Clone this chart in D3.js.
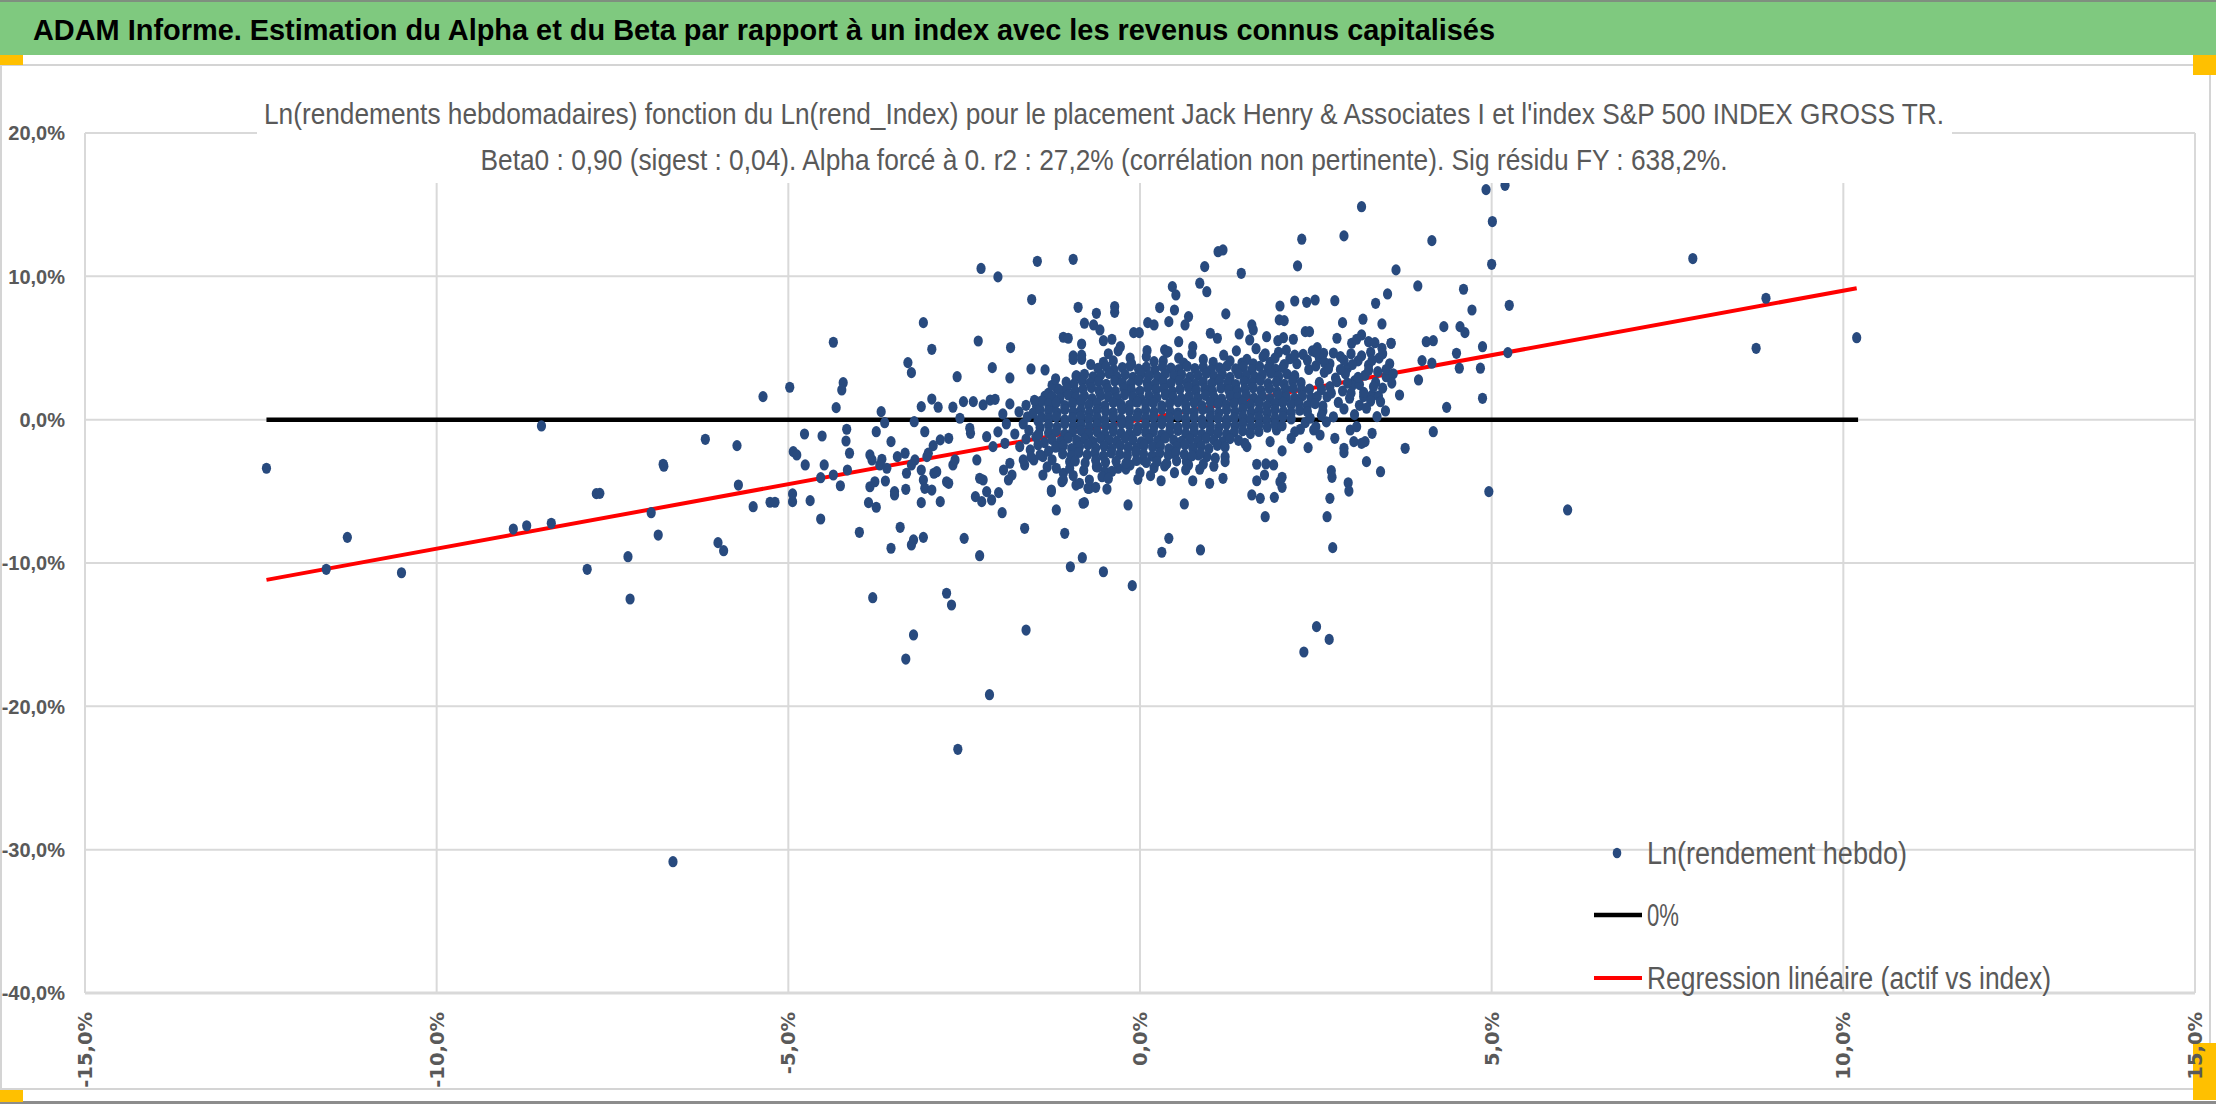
<!DOCTYPE html>
<html><head><meta charset="utf-8">
<script src="https://cdn.jsdelivr.net/npm/d3@7"></script>
<style>body{margin:0;background:#fff}svg{display:block}</style>
</head><body><svg id="c" width="2216" height="1104"></svg>
<script>
// ---------- texts ----------
const titleText = "ADAM Informe. Estimation du Alpha et du Beta par rapport à un index avec les revenus connus capitalisés";
const subtitleLines = [
  "Ln(rendements hebdomadaires) fonction du Ln(rend_Index) pour le placement Jack Henry & Associates I et l'index S&P 500 INDEX GROSS TR.",
  "Beta0 : 0,90 (sigest : 0,04). Alpha forcé à 0. r2 : 27,2% (corrélation non pertinente). Sig résidu FY : 638,2%."
];
const legendLabels = ["Ln(rendement hebdo)", "0%", "Regression linéaire (actif vs index)"];
const xTicks = [-15, -10, -5, 0, 5, 10, 15];
const yTicks = [20, 10, 0, -10, -20, -30, -40];
const beta = 0.90;   // Beta0, alpha forced to 0

// ---------- data (x = Ln(rend_Index) %, y = Ln(rendement hebdo) %) ----------
// scattered points, left / lower part
const scatterLeft = [
[-12.42,-3.39],[-11.57,-10.44],[-11.27,-8.21],[-10.50,-10.68],[-8.91,-7.63],[-8.72,-7.40],[-8.37,-7.23],[-8.51,-0.44],
[-7.73,-5.16],[-7.86,-10.44],[-6.64,-30.84],[-6.77,-3.25],[-7.28,-9.56],[-7.25,-12.51],[-7.68,-5.14],[-6.95,-6.49],
[-6.85,-8.05],[-6.78,-3.11],[-6.18,-1.37],[-6.00,-8.58],[-5.92,-9.14],[-5.73,-1.81],[-5.71,-4.56],[-5.50,-6.07],
[-5.26,-5.76],[-5.19,-5.76],[-5.36,1.61],[-4.98,2.26],[-4.94,-5.72],[-4.94,-5.18],[-4.69,-5.65],[-4.54,-6.93],
[-4.36,5.40],[-4.22,2.58],[-4.24,2.07],[-4.32,0.84],[-3.68,0.56],[-3.30,3.98],[-3.25,3.28],[-3.08,6.77],
[-2.96,4.91],[-2.30,5.49],[-1.84,5.03],[-2.60,3.00],[-2.10,3.63],[-1.85,2.91],[-1.55,3.54],[-1.35,3.47],
[-3.11,0.91],[-2.96,1.44],[-2.87,0.87],[-2.66,0.87],[-2.51,1.26],[-2.56,0.10],[-2.37,1.26],[-2.23,1.03],
[-2.13,1.37],[-2.06,1.42],[-1.85,1.10],[-0.95,4.45],[-0.83,4.21],[-0.91,3.05],[-1.35,1.65],[-1.18,2.19],
[-1.11,1.95],[-1.47,0.91],[-1.23,0.91],[-3.21,-0.14],[-3.63,-0.21],[-3.75,-0.84],[-4.17,-0.67],[-4.18,-1.49],
[-4.13,-2.34],[-4.16,-3.51],[-3.54,-1.53],[-3.06,-0.84],[-4.77,-1.00],[-4.52,-1.14],[-4.93,-2.23],[-4.88,-2.46],
[-4.76,-3.16],[-4.49,-3.16],[-4.36,-3.86],[-4.54,-4.05],[-4.26,-4.61],[-3.84,-2.46],[-3.81,-2.81],[-3.67,-2.76],
[-3.70,-3.16],[-3.60,-3.39],[-3.84,-4.68],[-3.77,-4.33],[-3.86,-5.79],[-3.75,-6.11],[-3.62,-4.28],[-3.45,-2.58],
[-3.34,-2.34],[-3.32,-3.74],[-3.33,-4.86],[-3.49,-5.02],[-3.49,-5.25],[-3.20,-2.81],[-3.25,-3.16],[-3.11,-3.51],
[-3.08,-4.21],[-3.06,-4.79],[-3.11,-5.79],[-2.96,-4.91],[-2.93,-3.74],[-2.89,-3.63],[-2.84,-5.72],[-2.75,-4.33],
[-2.72,-4.44],[-2.66,-3.16],[-2.63,-2.81],[-2.72,-1.30],[-2.84,-1.41],[-2.94,-1.81],[-3.01,-2.34],[-3.03,-2.58],
[-2.41,-0.95],[-2.42,-0.60],[-2.32,-2.81],[-2.34,-5.37],[-2.25,-5.72],[-2.18,-5.02],[-2.11,-5.60],[-2.01,-5.09],
[-2.23,-4.21],[-2.28,-4.09],[-2.18,-1.19],[-2.09,-1.88],[-1.92,-1.65],[-1.85,-3.04],[-1.87,-4.21],[-1.94,-3.51],
[-1.82,-3.86],[-1.96,-6.49],[-1.64,-3.16],[-1.66,-2.81],[-1.71,-1.88],[-1.56,-2.11],[-1.51,-2.81],[-1.38,-3.86],
[-1.26,-5.02],[-1.19,-6.30],[-1.38,-2.58],[-1.11,-4.33],[-1.09,-3.74],[-1.07,-7.93],[-0.91,-4.56],[-0.81,-5.83],
[-0.82,-9.63],[-0.99,-10.26],[-0.74,-4.79],[-0.62,-3.28],[-1.64,-7.58],[-1.62,-14.68],[-2.28,-9.49],[-2.50,-8.28],
[-2.75,-12.11],[-2.68,-12.93],[-3.22,-15.02],[-3.08,-8.21],[-3.22,-8.39],[-3.25,-8.74],[-3.54,-8.97],[-3.41,-7.51],
[-3.99,-7.86],[-3.80,-12.42],[-3.33,-16.70],[-2.14,-19.19],[-2.59,-23.00],
[-2.26,10.55],[-2.02,9.96],[-1.46,11.05],[-1.54,8.38]
];
// scattered points, right / upper part
const scatterRight = [
[10.19,5.72],[8.90,8.47],[8.76,4.98],[7.86,11.24],[6.08,-6.30],
[4.92,16.05],[5.19,16.35],[5.01,13.82],[5.00,10.84],[5.25,7.98],[5.23,4.68],[4.96,-5.02],[4.87,5.09],[4.84,3.59],
[4.87,1.49],[4.54,3.59],[4.50,4.63],[4.60,9.10],[4.72,7.65],[4.55,6.49],[4.62,6.07],[4.32,6.49],[4.15,12.49],
[4.36,0.86],[4.17,-0.84],[3.77,-2.00],[3.95,9.33],[3.64,10.45],[4.07,5.44],[4.17,5.51],[4.01,4.12],[4.15,3.94],
[3.96,2.77],[3.69,1.72],[3.52,8.77],[3.35,8.12],[3.57,5.33],[3.44,6.68],[3.15,14.86],[2.90,12.82],[2.30,12.59],
[2.24,10.73],[3.42,-3.63],[3.22,-2.93],[2.77,-1.30],[2.90,-2.00],[2.90,-2.30],[2.39,-1.95],[-0.95,11.19],
[1.44,10.21],[0.92,10.68],[1.11,11.72],[1.18,11.84],[0.85,9.52],[0.95,8.93],[0.46,9.28],[0.51,8.70],[0.28,7.82],
[-0.88,7.84],[-0.36,7.89],[-0.36,7.49],[-0.62,7.42],[0.49,7.65],[0.69,7.19],[1.22,7.38],[2.20,8.28],[2.37,8.19],
[2.49,8.35],[2.77,8.30],[1.99,7.93],[1.98,6.96],[2.05,6.91],[2.88,6.77],[3.17,7.01],[1.59,6.61],[1.61,6.26],
[1.41,5.98],[1.56,5.56],[0.11,6.77],[0.20,6.61],[0.41,6.84],[0.64,6.61],[-0.09,6.07],[-0.01,6.07],[-0.79,6.73],
[-0.66,6.61],[-0.57,6.26],[-1.09,5.75],[-1.02,5.68],[-0.83,5.28],[-0.52,5.51],[-0.40,5.61],[-0.28,5.09],
[0.10,4.82],[0.35,4.87],[0.40,4.75],[0.55,5.44],[0.75,5.09],[1.00,6.03],[1.10,5.68],[1.80,5.79],[1.96,5.51],
[2.04,5.72],[2.18,5.61],[2.35,6.14],[2.41,6.14],[2.52,5.02],[2.61,4.63],[2.80,5.68],[3.01,5.33],[3.08,5.61],
[3.15,5.91],[3.25,5.44],[3.34,5.37],[3.44,4.98],[3.57,5.33],
[-0.52,-10.61],[-0.11,-11.58],[-0.79,-5.79],[-0.17,-5.95],[-0.72,-4.79],[-0.63,-4.72],[-0.47,-4.84],[-0.03,-4.16],
[0.30,-4.26],[0.49,-3.70],[0.35,-3.23],[0.63,-5.88],[0.75,-4.26],[0.99,-4.44],[1.18,-4.09],[0.85,-3.46],
[0.41,-8.28],[0.31,-9.25],[0.86,-9.09],[1.59,-5.25],[1.71,-5.49],[1.66,-4.26],[1.77,-3.86],[1.91,-5.42],
[1.99,-4.33],[2.02,-4.72],[2.02,-4.02],[1.78,-6.77],[1.66,-3.11],[1.79,-3.09],[1.90,-3.16],[2.02,-2.18],
[2.66,-6.77],[2.70,-5.49],[2.73,-4.02],[2.72,-3.56],[2.74,-8.93],[2.51,-14.44],[2.69,-15.33],[2.33,-16.21],
[2.96,-4.40],[2.97,-4.98],[2.99,-0.72],[3.08,-0.49],[3.04,-1.53],[3.15,-1.65],[3.20,-1.53],[3.30,-0.95],
[3.18,1.61],[3.30,1.72],[3.39,1.65],[3.37,0.21],[3.49,0.61],[2.47,-0.72],[2.56,-1.07],[2.28,-0.67],
[1.94,-0.72],[1.85,-1.53],[1.52,-1.88],[1.49,-1.65],[1.21,-2.58],[1.21,-2.93],[1.07,-2.69],[0.95,-2.58],
[0.83,-2.46],[0.66,-2.93],[0.69,-3.16],[0.47,-2.34],[0.24,-2.62],[0.05,-2.81],[-0.14,-3.16],[-0.31,-3.39],
[-0.21,-3.32],[-0.50,-3.63],[-0.54,-3.98],[-0.72,-4.21],[-0.86,-4.44],[-1.09,-4.21],[-1.26,-4.91],[-1.19,-3.39],
[-1.00,-2.93],[-1.14,-1.88]
];
// medium-density ring around the central cloud
const ringPts = [
[-0.95,4.2],[-0.83,4.5],[-0.52,4.0],[-0.45,4.6],[-0.38,4.1],[-0.31,4.8],[-0.14,4.3],[-0.12,3.9],[0.09,4.4],[0.33,4.1],
[0.38,4.7],[0.55,4.3],[0.62,3.95],[0.74,4.6],[0.90,4.2],[1.04,4.0],[1.19,4.5],[1.28,4.1],[1.37,4.8],[1.52,4.2],
[1.61,3.9],[1.75,4.4],[1.85,4.0],[1.97,4.7],[2.13,4.25],[2.23,3.9],[2.32,4.55],[-0.7,3.85],[0.2,4.05],[1.45,3.95],[2.05,3.85],
[2.55,4.3],[2.7,3.9],[2.85,4.4],[2.95,3.6],[3.1,4.1],[3.25,3.8],[3.4,4.3],[3.55,3.9],[2.4,3.5],[2.62,3.3],
[2.78,2.9],[2.92,3.2],[3.05,2.7],[3.2,3.1],[3.35,2.6],[3.5,3.0],[2.55,2.6],[2.7,2.3],[2.88,2.0],[3.02,2.4],
[3.18,1.9],[3.32,2.3],[2.66,1.6],[2.82,1.2],[2.98,1.5],[3.12,1.0],[3.28,1.3],[2.6,0.6],[2.75,0.2],[2.9,0.75],
[3.05,0.35],[3.22,0.8],[2.35,-0.2],[2.5,-0.5],[2.65,-0.15],[2.2,-0.85],[3.0,4.6],[3.28,4.7],[2.45,4.8],[2.15,-1.3],
[1.65,4.95],[1.78,4.6],[1.92,4.3],[2.08,4.85],[2.2,4.5],[2.38,4.15],[2.5,4.7],[2.62,4.0],[2.75,4.65],[2.9,4.15],
[3.02,3.85],[3.15,4.45],[3.3,4.15],[3.45,4.6],[3.5,3.5],[3.38,3.35],[3.6,3.2],[3.25,3.45],[2.85,3.5],[2.5,3.75],
[2.68,3.55],[3.12,2.45],[3.45,2.2],[3.58,2.55],[3.1,2.95],[2.95,2.55],[2.8,2.65],[2.58,2.1],[2.48,1.25],[2.6,0.95],
[2.72,1.85],[3.0,1.85],[3.42,1.25],[2.42,0.1],[2.58,0.3],
[-1.72,0.55],[-1.6,0.2],[-1.66,-0.3],[-1.52,0.45],[-1.45,-0.1],[-1.58,-0.75],[-1.42,0.7],[-1.4,0.15],[-1.48,-1.2],
[-1.42,-0.55],[-1.62,-1.35],[-1.44,-1.0],[-1.36,-1.6],[-1.45,-1.75],[-1.3,-2.2],[-1.42,-2.45],[-1.25,-2.8],[-1.32,-3.3],
[-1.78,-1.0],[-1.55,-2.6],[-1.4,1.3],[-1.5,1.35],[-1.3,1.85],[-1.25,2.4],[-1.2,2.85],[-1.62,1.0],[-1.9,-0.3],
[-1.95,0.4],[-2.02,-0.85],
[-1.0,-3.4],[-0.8,-3.55],[-0.6,-3.3],[-0.4,-3.6],[-0.2,-3.45],[0.0,-3.7],[0.2,-3.35],[0.65,-3.5],[0.9,-3.1],
[1.05,-3.25],[-0.95,-3.9],[-0.45,-4.1],[0.15,-3.9]
];
// dense central cloud, row by row (x values and matching y values)
const coreRowsX = [
[-0.60,-0.48,-0.37,-0.25,-0.14,-0.02,0.09,0.21,0.32,0.44,0.55,0.67,0.78,0.90,1.01,1.13,1.24,1.36,1.47,1.59,1.70,1.82,1.93,2.03],
[-0.90,-0.79,-0.67,-0.56,-0.44,-0.33,-0.21,-0.10,0.02,0.13,0.25,0.36,0.48,0.59,0.71,0.82,0.94,1.05,1.17,1.28,1.40,1.51,1.63,1.74,1.86,1.97,2.09,2.20],
[-1.05,-0.94,-0.82,-0.71,-0.59,-0.48,-0.36,-0.25,-0.13,-0.02,0.10,0.21,0.33,0.44,0.56,0.67,0.79,0.90,1.02,1.13,1.25,1.36,1.48,1.59,1.71,1.82,1.94,2.05,2.17,2.29],
[-1.15,-1.04,-0.92,-0.81,-0.69,-0.58,-0.46,-0.35,-0.23,-0.12,0.00,0.11,0.23,0.34,0.46,0.57,0.69,0.80,0.92,1.03,1.15,1.26,1.38,1.49,1.61,1.72,1.84,1.95,2.07,2.18,2.30,2.41],
[-1.25,-1.14,-1.02,-0.91,-0.79,-0.68,-0.56,-0.45,-0.33,-0.22,-0.10,0.01,0.13,0.24,0.36,0.47,0.59,0.70,0.82,0.93,1.05,1.16,1.28,1.39,1.51,1.62,1.74,1.85,1.97,2.08,2.20,2.31,2.43,2.52],
[-1.30,-1.19,-1.07,-0.96,-0.84,-0.73,-0.61,-0.50,-0.38,-0.27,-0.15,-0.04,0.08,0.19,0.31,0.42,0.54,0.65,0.77,0.88,1.00,1.11,1.23,1.34,1.46,1.57,1.69,1.80,1.92,2.03,2.15,2.26,2.38,2.49],
[-1.30,-1.18,-1.07,-0.95,-0.84,-0.72,-0.61,-0.49,-0.38,-0.26,-0.15,-0.03,0.08,0.20,0.31,0.43,0.54,0.66,0.77,0.89,1.00,1.12,1.23,1.35,1.46,1.58,1.69,1.81,1.92,2.04,2.15,2.27,2.38],
[-1.30,-1.19,-1.07,-0.96,-0.84,-0.73,-0.61,-0.50,-0.38,-0.27,-0.15,-0.04,0.08,0.19,0.31,0.42,0.54,0.65,0.77,0.88,1.00,1.11,1.23,1.34,1.46,1.57,1.69,1.80,1.92,2.03,2.15],
[-1.30,-1.18,-1.07,-0.95,-0.84,-0.72,-0.61,-0.49,-0.38,-0.26,-0.15,-0.03,0.08,0.20,0.31,0.43,0.54,0.66,0.77,0.89,1.00,1.12,1.23,1.35,1.46,1.58,1.69,1.81,1.92,2.02],
[-1.30,-1.19,-1.07,-0.96,-0.84,-0.73,-0.61,-0.50,-0.38,-0.27,-0.15,-0.04,0.08,0.19,0.31,0.42,0.54,0.65,0.77,0.88,1.00,1.11,1.23,1.34,1.46,1.57,1.69],
[-1.25,-1.13,-1.02,-0.90,-0.79,-0.67,-0.56,-0.44,-0.33,-0.21,-0.10,0.02,0.13,0.25,0.36,0.48,0.59,0.71,0.82,0.94,1.05,1.17,1.28,1.40],
[-1.20,-1.09,-0.97,-0.86,-0.74,-0.63,-0.51,-0.40,-0.28,-0.17,-0.05,0.06,0.18,0.29,0.41,0.52,0.64,0.75,0.87,0.98,1.10,1.21],
[-1.10,-0.98,-0.87,-0.75,-0.64,-0.52,-0.41,-0.29,-0.18,-0.06,0.05,0.17,0.28,0.40,0.51,0.63,0.74,0.86],
[-0.92,-0.78,-0.63,-0.49,-0.34,-0.20,-0.05,0.09,0.24,0.38,0.52]
];
const coreRowsY = [
[3.58,3.70,3.49,3.64,3.75,3.52,3.66,3.47,3.71,3.60,3.50,3.73,3.57,3.68,3.46,3.62,3.76,3.54,3.67,3.48,3.72,3.59,3.51,3.65],
[3.05,3.17,2.98,3.12,3.22,3.01,3.14,2.96,3.19,3.08,2.99,3.21,3.06,3.15,2.97,3.11,3.23,3.03,3.16,2.95,3.20,3.09,3.00,3.13,3.24,3.02,3.18,3.07],
[2.62,2.49,2.71,2.55,2.66,2.47,2.69,2.58,2.50,2.73,2.60,2.46,2.67,2.54,2.72,2.57,2.48,2.65,2.52,2.70,2.59,2.45,2.68,2.56,2.74,2.51,2.63,2.47,2.69,2.58],
[2.08,2.20,1.99,2.13,2.24,2.02,2.15,1.97,2.19,2.06,2.00,2.22,2.10,2.17,1.96,2.12,2.25,2.04,2.16,1.98,2.21,2.09,2.01,2.14,2.23,2.03,2.18,1.95,2.11,2.20,2.05,2.14],
[1.62,1.49,1.71,1.55,1.66,1.47,1.69,1.58,1.50,1.73,1.60,1.46,1.67,1.54,1.72,1.57,1.48,1.65,1.52,1.70,1.59,1.45,1.68,1.56,1.74,1.51,1.63,1.47,1.69,1.58,1.50,1.66,1.55,1.61],
[1.08,1.20,0.99,1.13,1.24,1.02,1.15,0.97,1.19,1.06,1.00,1.22,1.10,1.17,0.96,1.12,1.25,1.04,1.16,0.98,1.21,1.09,1.01,1.14,1.23,1.03,1.18,0.95,1.11,1.20,1.05,1.14,0.99,1.12],
[0.62,0.49,0.71,0.55,0.66,0.47,0.69,0.58,0.50,0.73,0.60,0.46,0.67,0.54,0.72,0.57,0.48,0.65,0.52,0.70,0.59,0.45,0.68,0.56,0.74,0.51,0.63,0.47,0.69,0.58,0.50,0.66,0.55],
[0.08,0.20,-0.01,0.13,0.24,0.02,0.15,-0.03,0.19,0.06,0.00,0.22,0.10,0.17,-0.04,0.12,0.25,0.04,0.16,-0.02,0.21,0.09,0.01,0.14,0.23,0.03,0.18,-0.05,0.11,0.20,0.05],
[-0.38,-0.51,-0.29,-0.45,-0.34,-0.53,-0.31,-0.42,-0.50,-0.27,-0.40,-0.54,-0.33,-0.46,-0.28,-0.43,-0.52,-0.35,-0.48,-0.30,-0.41,-0.55,-0.32,-0.44,-0.26,-0.49,-0.37,-0.53,-0.31,-0.42],
[-0.92,-0.80,-1.01,-0.87,-0.76,-0.98,-0.85,-1.03,-0.81,-0.94,-1.00,-0.78,-0.90,-0.83,-1.04,-0.88,-0.75,-0.96,-0.84,-1.02,-0.79,-0.91,-0.99,-0.86,-0.77,-0.97,-0.82],
[-1.38,-1.51,-1.29,-1.45,-1.34,-1.53,-1.31,-1.42,-1.50,-1.27,-1.40,-1.54,-1.33,-1.46,-1.28,-1.43,-1.52,-1.35,-1.48,-1.30,-1.41,-1.55,-1.32,-1.44],
[-1.92,-1.80,-2.01,-1.87,-1.76,-1.98,-1.85,-2.03,-1.81,-1.94,-2.00,-1.78,-1.90,-1.83,-2.04,-1.88,-1.75,-1.96,-1.84,-2.02,-1.79,-1.91],
[-2.38,-2.51,-2.29,-2.45,-2.34,-2.53,-2.31,-2.42,-2.50,-2.27,-2.40,-2.54,-2.33,-2.46,-2.28,-2.43,-2.52,-2.35],
[-2.88,-3.02,-2.83,-2.97,-2.90,-3.05,-2.85,-2.99,-2.92,-3.06,-2.87]
];

// ---------- build ----------
const corePts = [];
coreRowsX.forEach((row, i) => row.forEach((x, j) => { if (coreRowsY[i][j] !== undefined) corePts.push([x, coreRowsY[i][j]]); }));
const points = scatterLeft.concat(scatterRight, ringPts, corePts);

const W = 2216, H = 1104;
const svg = d3.select("#c");
const x = d3.scaleLinear().domain([-15, 15]).range([85, 2195]);
const y = d3.scaleLinear().domain([-40, 20]).range([993, 133]);
const fmt = v => d3.format(".1f")(v).replace(".", ",").replace("−", "-") + "%";
const GRAY = "#595959", GRID = "#d9d9d9", DOT = "#284a7e";
const FONT = "'Liberation Sans', Arial, sans-serif";

function fitText(sel, len) { sel.attr("textLength", len).attr("lengthAdjust", "spacingAndGlyphs"); return sel; }

svg.append("rect").attr("width", W).attr("height", H).attr("fill", "#fff");

// header band
svg.append("rect").attr("x", 0).attr("y", 0).attr("width", W).attr("height", 55).attr("fill", "#7fc97f");
svg.append("rect").attr("x", 0).attr("y", 0).attr("width", W).attr("height", 2).attr("fill", "#7f8f7f");
fitText(svg.append("text").attr("x", 33).attr("y", 40).attr("font-family", FONT).attr("font-weight", "bold")
  .attr("font-size", 29).attr("fill", "#000").text(titleText), 1462);

// chart frame
svg.append("rect").attr("x", 1).attr("y", 65).attr("width", 2209).attr("height", 1024)
  .attr("fill", "none").attr("stroke", "#d4d4d4").attr("stroke-width", 2);
svg.append("rect").attr("x", 0).attr("y", 1101).attr("width", W).attr("height", 3).attr("fill", "#8c8c8c");

// selection handles (under the labels)
[[0, 55, 23, 10], [2193, 55, 23, 20], [0, 1090, 23, 12], [2193, 1043, 23, 57]].forEach(r =>
  svg.append("rect").attr("x", r[0]).attr("y", r[1]).attr("width", r[2]).attr("height", r[3]).attr("fill", "#ffc000"));

// gridlines
const g = svg.append("g");
g.selectAll("line.h").data(yTicks).join("line").attr("class", "h")
  .attr("x1", x(-15)).attr("x2", x(15)).attr("y1", d => y(d)).attr("y2", d => y(d))
  .attr("stroke", GRID).attr("stroke-width", d => d === -40 ? 3 : 2);
g.selectAll("line.v").data(xTicks).join("line").attr("class", "v")
  .attr("y1", y(20)).attr("y2", y(-40)).attr("x1", d => x(d)).attr("x2", d => x(d))
  .attr("stroke", GRID).attr("stroke-width", 2);

// y tick labels
svg.selectAll("text.yt").data(yTicks).join("text").attr("class", "yt")
  .attr("x", 65).attr("y", d => y(d)).attr("dy", "0.36em").attr("text-anchor", "end")
  .attr("font-family", FONT).attr("font-weight", "bold").attr("font-size", 20).attr("fill", GRAY)
  .text(fmt);
// x tick labels (rotated)
svg.selectAll("text.xt").data(xTicks).join("text").attr("class", "xt")
  .attr("transform", d => `translate(${x(d)},1012) rotate(-90)`)
  .attr("dy", "0.36em").attr("text-anchor", "end")
  .attr("font-family", "'DejaVu Sans', Verdana, sans-serif").attr("font-weight", "bold").attr("font-size", 19.5)
  .attr("fill", GRAY).text(fmt);

// lines: 0% and regression
const xr = d3.extent(points, d => d[0]);
const line = d3.line().x(d => x(d[0])).y(d => y(d[1]));
svg.append("path").attr("d", line([[xr[0], 0], [xr[1] + 0.02, 0]])).attr("stroke", "#000").attr("stroke-width", 4.5).attr("fill", "none");
svg.append("path").attr("d", line([[xr[0], beta * xr[0]], [xr[1], beta * xr[1]]])).attr("stroke", "#ff0000").attr("stroke-width", 4).attr("fill", "none");

// points
svg.append("g").selectAll("ellipse").data(points).join("ellipse")
  .attr("cx", d => x(d[0])).attr("cy", d => y(d[1])).attr("rx", 4.6).attr("ry", 5.6).attr("fill", DOT);

// chart title box (white background hides grid under it)
svg.append("rect").attr("x", 257).attr("y", 67).attr("width", 1695).attr("height", 116).attr("fill", "#fff");
const subW = [1680, 1247], subY = [124, 170];
subtitleLines.forEach((s, i) => {
  fitText(svg.append("text").attr("x", 1104).attr("y", subY[i]).attr("text-anchor", "middle")
    .attr("font-family", FONT).attr("font-size", 30).attr("fill", GRAY).text(s), subW[i]);
});

// legend
const legY = [853, 915, 978], legW = [260, 32, 404];
svg.append("ellipse").attr("cx", 1617).attr("cy", legY[0]).attr("rx", 4.3).attr("ry", 5.3).attr("fill", DOT);
svg.append("line").attr("x1", 1594).attr("x2", 1642).attr("y1", legY[1]).attr("y2", legY[1]).attr("stroke", "#000").attr("stroke-width", 4.5);
svg.append("line").attr("x1", 1594).attr("x2", 1642).attr("y1", legY[2]).attr("y2", legY[2]).attr("stroke", "#ff0000").attr("stroke-width", 4);
legendLabels.forEach((s, i) => {
  fitText(svg.append("text").attr("x", 1647).attr("y", legY[i]).attr("dy", "0.36em")
    .attr("font-family", FONT).attr("font-size", 31).attr("fill", GRAY).text(s), legW[i]);
});
</script>
</body></html>
